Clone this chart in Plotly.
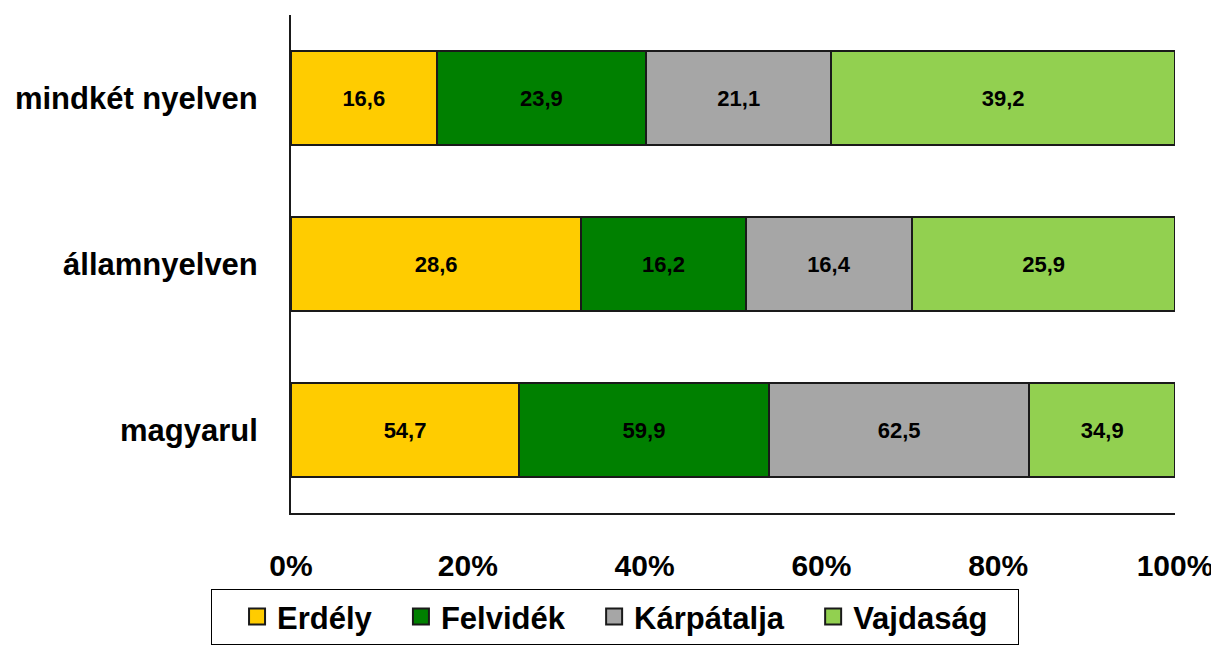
import plotly.graph_objects as go

categories = ["magyarul", "államnyelven", "mindkét nyelven"]
series_names = ["Erdély", "Felvidék", "Kárpátalja", "Vajdaság"]
erdely = [54.7, 28.6, 16.6]
felvidek = [59.9, 16.2, 23.9]
karpatalja = [62.5, 16.4, 21.1]
vajdasag = [34.9, 25.9, 39.2]
tick_vals = [0, 20, 40, 60, 80, 100]
tick_text = ["0%", "20%", "40%", "60%", "80%", "100%"]

colors = ["#FFCC00", "#008000", "#A6A6A6", "#92D050"]
FONT = "Liberation Sans, Arial, sans-serif"

fig = go.Figure()
for name, vals, col in zip(series_names, [erdely, felvidek, karpatalja, vajdasag], colors):
    fig.add_trace(go.Bar(
        y=categories, x=vals, name=name, orientation="h", showlegend=False,
        marker=dict(color=col, line=dict(color="#1a1a1a", width=2)),
        text=[f"{v:.1f}".replace(".", ",") for v in vals],
        textposition="inside", insidetextanchor="middle", textangle=0,
        insidetextfont=dict(family=FONT, size=22, color="black", weight="bold"),
        hoverinfo="skip",
    ))
# legend entries with larger square swatches
for name, col in zip(series_names, colors):
    fig.add_trace(go.Scatter(
        x=[None], y=[None], mode="markers", name=name + "\u2002\u00a0",
        marker=dict(symbol="square", size=19, color=col, line=dict(color="#1a1a1a", width=2)),
        hoverinfo="skip",
    ))

# page body has an 8px offset; compensate in size and margins
fig.update_layout(
    template="none",
    barmode="stack", barnorm="percent", bargap=0.43,
    width=1211, height=645,
    margin=dict(l=283, r=44, t=7, b=140, pad=0),
    paper_bgcolor="white", plot_bgcolor="white",
    font=dict(family=FONT, size=26, color="black", weight="bold"),
    showlegend=True,
    legend=dict(
        orientation="h", x=0.366, xanchor="center", y=-0.265, yanchor="bottom",
        bordercolor="black", borderwidth=1, bgcolor="white",
        font=dict(family=FONT, size=31, color="black", weight="bold"),
        title=dict(text="\u2002", side="left", font=dict(family=FONT, size=31)),
        traceorder="normal", itemwidth=30,
    ),
    xaxis=dict(
        range=[0, 100], tickvals=tick_vals, ticktext=tick_text, automargin=False,
        showgrid=False, zeroline=False, showline=True, linecolor="#1a1a1a", linewidth=2,
        ticks="", ticklabelstandoff=25,
        tickfont=dict(family=FONT, size=30, color="black", weight="bold"),
    ),
    yaxis=dict(
        automargin=False,
        showgrid=False, zeroline=False, showline=True, linecolor="#1a1a1a", linewidth=2,
        ticks="", ticklabelstandoff=25, categoryorder="array", categoryarray=categories,
        tickfont=dict(family=FONT, size=31, color="black", weight="bold"),
    ),
)

fig.write_html("out.html")
